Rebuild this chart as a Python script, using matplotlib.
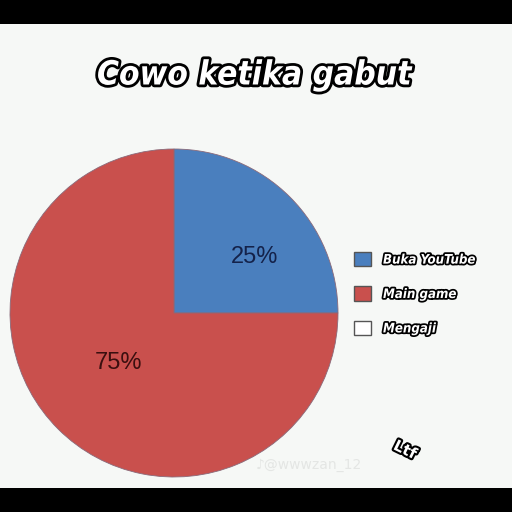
import numpy as np
import matplotlib
matplotlib.use("Agg")
import matplotlib.pyplot as plt
import matplotlib.patheffects as pe
from matplotlib.patches import Patch, Rectangle

# data
title = "Cowo ketika gabut"
labels = ["Buka YouTube", "Main game", "Mengaji"]
values = [25, 75]
colors = ["#4a7fbe", "#c9504d", "#ffffff"]
pct_colors = ["#14224a", "#3a0f0f"]

BG = "#f6f8f6"

fig = plt.figure(figsize=(5.12, 5.12), dpi=100)
fig.patch.set_facecolor(BG)

# black bars top and bottom
fig.patches.append(Rectangle((0, 1 - 24 / 512), 1, 24 / 512, transform=fig.transFigure,
                             facecolor="black", edgecolor="none", zorder=0))
fig.patches.append(Rectangle((0, 0), 1, 24 / 512, transform=fig.transFigure,
                             facecolor="black", edgecolor="none", zorder=0))

outline = [pe.withStroke(linewidth=4, foreground="black")]
title_font = ["DejaVu Sans"]

fig.text(0.497, 1 - 75 / 512, title, ha="center", va="center",
         fontsize=24, fontweight="bold", fontstyle="italic", fontstretch="condensed",
         family=title_font, color="white", path_effects=outline)

# pie
ax = fig.add_axes([10 / 512, (512 - 313 - 164) / 512, 328 / 512, 328 / 512])
ax.set_facecolor(BG)
wedges, texts, autotexts = ax.pie(
    values, colors=colors[:2], startangle=90, counterclock=False,
    autopct="%d%%", pctdistance=0.6,
    wedgeprops=dict(linewidth=0.6, edgecolor="#8a6a7a"),
    textprops=dict(fontsize=17, family="Liberation Sans"),
)
for t, c in zip(autotexts, pct_colors):
    t.set_color(c)
x, y = autotexts[0].get_position()
autotexts[0].set_position((x * 1.16, y * 0.8))
x, y = autotexts[1].get_position()
autotexts[1].set_position((x * 0.8, y * 0.72))
ax.set_xlim(-1, 1)
ax.set_ylim(-1, 1)
ax.axis("off")

# legend
handles = [Patch(facecolor=c, edgecolor="#555555", linewidth=1.0) for c in colors]
leg = fig.legend(handles, labels, loc="upper left",
                 bbox_to_anchor=(354 / 512, 1 - 252 / 512),
                 frameon=False, borderpad=0, borderaxespad=0,
                 handlelength=1.3, handleheight=1.3, handletextpad=0.9,
                 labelspacing=1.5,
                 prop=dict(size=9.5, weight="bold", style="italic",
                           stretch="condensed", family=title_font))
for t in leg.get_texts():
    t.set_color("white")
    t.set_path_effects([pe.withStroke(linewidth=2.5, foreground="black")])

# watermarks
fig.text(405 / 512, 1 - 450 / 512, "Ltf", ha="center", va="center", rotation=-26,
         fontsize=11, fontweight="bold", color="white",
         path_effects=[pe.withStroke(linewidth=3, foreground="black")])
fig.text(256 / 512, 1 - 465 / 512, "\u266a@wwwzan_12", ha="left", va="center",
         fontsize=10, color="#e4e6e4", zorder=5)

fig.savefig("out.png", dpi=100, facecolor=BG)
